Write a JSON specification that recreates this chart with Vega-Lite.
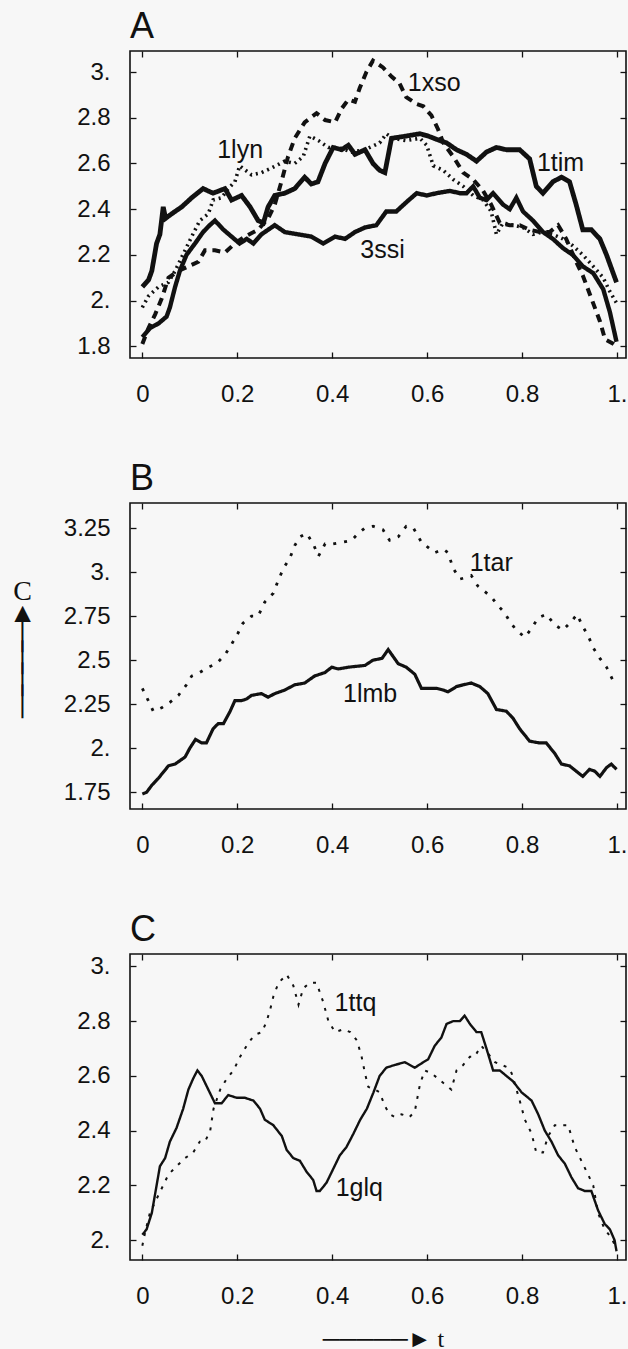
{
  "$schema": "https://vega.github.io/schema/vega-lite/v6.json",
  "background": "#f7f7f7",
  "padding": {"left": 7, "top": 8, "right": 0, "bottom": 4},
  "spacing": 53,
  "config": {
    "font": "Liberation Sans",
    "view": {"stroke": "#111", "strokeWidth": 1.6},
    "axis": {"domain": false, "grid": false, "tickColor": "#111", "tickSize": -6, "tickWidth": 1.3, "labelFont": "Liberation Sans", "labelFontSize": 24, "labelColor": "#111"},
    "axisBottom": {"labelPadding": 30},
    "axisLeft": {"labelPadding": 26},
    "title": {"anchor": "start", "frame": "group", "fontSize": 36, "fontWeight": "normal", "font": "Liberation Sans", "color": "#111", "offset": 4, "baseline": "alphabetic"},
    "text": {"font": "Liberation Sans", "fontSize": 25, "color": "#111"}
  },
  "datasets": {
    "a": [
      {"s":"1tim","t":0,"c":2.06},{"s":"1tim","t":0.013,"c":2.09},{"s":"1tim","t":0.02,"c":2.13},{"s":"1tim","t":0.03,"c":2.25},{"s":"1tim","t":0.037,"c":2.29},{"s":"1tim","t":0.044,"c":2.41},{"s":"1tim","t":0.049,"c":2.36},{"s":"1tim","t":0.062,"c":2.38},{"s":"1tim","t":0.083,"c":2.41},{"s":"1tim","t":0.104,"c":2.45},{"s":"1tim","t":0.128,"c":2.49},{"s":"1tim","t":0.149,"c":2.47},{"s":"1tim","t":0.174,"c":2.49},{"s":"1tim","t":0.188,"c":2.44},{"s":"1tim","t":0.209,"c":2.46},{"s":"1tim","t":0.227,"c":2.41},{"s":"1tim","t":0.244,"c":2.35},{"s":"1tim","t":0.255,"c":2.34},{"s":"1tim","t":0.265,"c":2.41},{"s":"1tim","t":0.279,"c":2.46},{"s":"1tim","t":0.3,"c":2.47},{"s":"1tim","t":0.321,"c":2.49},{"s":"1tim","t":0.342,"c":2.54},{"s":"1tim","t":0.356,"c":2.51},{"s":"1tim","t":0.37,"c":2.52},{"s":"1tim","t":0.385,"c":2.6},{"s":"1tim","t":0.402,"c":2.67},{"s":"1tim","t":0.42,"c":2.66},{"s":"1tim","t":0.434,"c":2.68},{"s":"1tim","t":0.448,"c":2.64},{"s":"1tim","t":0.469,"c":2.66},{"s":"1tim","t":0.486,"c":2.6},{"s":"1tim","t":0.5,"c":2.57},{"s":"1tim","t":0.511,"c":2.56},{"s":"1tim","t":0.525,"c":2.71},{"s":"1tim","t":0.556,"c":2.72},{"s":"1tim","t":0.585,"c":2.73},{"s":"1tim","t":0.602,"c":2.72},{"s":"1tim","t":0.627,"c":2.7},{"s":"1tim","t":0.641,"c":2.69},{"s":"1tim","t":0.662,"c":2.66},{"s":"1tim","t":0.683,"c":2.64},{"s":"1tim","t":0.704,"c":2.61},{"s":"1tim","t":0.725,"c":2.65},{"s":"1tim","t":0.746,"c":2.67},{"s":"1tim","t":0.767,"c":2.66},{"s":"1tim","t":0.795,"c":2.66},{"s":"1tim","t":0.816,"c":2.62},{"s":"1tim","t":0.83,"c":2.5},{"s":"1tim","t":0.844,"c":2.47},{"s":"1tim","t":0.865,"c":2.52},{"s":"1tim","t":0.883,"c":2.54},{"s":"1tim","t":0.9,"c":2.52},{"s":"1tim","t":0.914,"c":2.42},{"s":"1tim","t":0.928,"c":2.31},{"s":"1tim","t":0.946,"c":2.31},{"s":"1tim","t":0.964,"c":2.27},{"s":"1tim","t":0.978,"c":2.2},{"s":"1tim","t":0.999,"c":2.08},
      {"s":"1lyn","t":0,"c":1.97},{"s":"1lyn","t":0.013,"c":2.02},{"s":"1lyn","t":0.034,"c":2.06},{"s":"1lyn","t":0.055,"c":2.08},{"s":"1lyn","t":0.069,"c":2.13},{"s":"1lyn","t":0.083,"c":2.19},{"s":"1lyn","t":0.104,"c":2.28},{"s":"1lyn","t":0.121,"c":2.35},{"s":"1lyn","t":0.139,"c":2.38},{"s":"1lyn","t":0.149,"c":2.44},{"s":"1lyn","t":0.167,"c":2.45},{"s":"1lyn","t":0.181,"c":2.49},{"s":"1lyn","t":0.195,"c":2.52},{"s":"1lyn","t":0.205,"c":2.59},{"s":"1lyn","t":0.23,"c":2.55},{"s":"1lyn","t":0.251,"c":2.56},{"s":"1lyn","t":0.272,"c":2.58},{"s":"1lyn","t":0.3,"c":2.61},{"s":"1lyn","t":0.321,"c":2.6},{"s":"1lyn","t":0.339,"c":2.63},{"s":"1lyn","t":0.353,"c":2.72},{"s":"1lyn","t":0.371,"c":2.7},{"s":"1lyn","t":0.392,"c":2.67},{"s":"1lyn","t":0.413,"c":2.67},{"s":"1lyn","t":0.441,"c":2.65},{"s":"1lyn","t":0.469,"c":2.66},{"s":"1lyn","t":0.5,"c":2.69},{"s":"1lyn","t":0.514,"c":2.73},{"s":"1lyn","t":0.528,"c":2.71},{"s":"1lyn","t":0.556,"c":2.7},{"s":"1lyn","t":0.585,"c":2.71},{"s":"1lyn","t":0.599,"c":2.68},{"s":"1lyn","t":0.613,"c":2.59},{"s":"1lyn","t":0.634,"c":2.57},{"s":"1lyn","t":0.655,"c":2.53},{"s":"1lyn","t":0.676,"c":2.5},{"s":"1lyn","t":0.697,"c":2.46},{"s":"1lyn","t":0.718,"c":2.44},{"s":"1lyn","t":0.735,"c":2.39},{"s":"1lyn","t":0.746,"c":2.29},{"s":"1lyn","t":0.76,"c":2.34},{"s":"1lyn","t":0.781,"c":2.33},{"s":"1lyn","t":0.802,"c":2.32},{"s":"1lyn","t":0.823,"c":2.29},{"s":"1lyn","t":0.844,"c":2.3},{"s":"1lyn","t":0.865,"c":2.29},{"s":"1lyn","t":0.886,"c":2.27},{"s":"1lyn","t":0.907,"c":2.24},{"s":"1lyn","t":0.928,"c":2.2},{"s":"1lyn","t":0.95,"c":2.15},{"s":"1lyn","t":0.971,"c":2.1},{"s":"1lyn","t":0.985,"c":2.04},{"s":"1lyn","t":0.999,"c":1.99},
      {"s":"1xso","t":0,"c":1.81},{"s":"1xso","t":0.013,"c":1.88},{"s":"1xso","t":0.027,"c":1.94},{"s":"1xso","t":0.041,"c":2.01},{"s":"1xso","t":0.055,"c":2.1},{"s":"1xso","t":0.076,"c":2.13},{"s":"1xso","t":0.097,"c":2.15},{"s":"1xso","t":0.118,"c":2.17},{"s":"1xso","t":0.132,"c":2.22},{"s":"1xso","t":0.153,"c":2.22},{"s":"1xso","t":0.174,"c":2.21},{"s":"1xso","t":0.195,"c":2.25},{"s":"1xso","t":0.216,"c":2.28},{"s":"1xso","t":0.244,"c":2.31},{"s":"1xso","t":0.265,"c":2.36},{"s":"1xso","t":0.279,"c":2.42},{"s":"1xso","t":0.293,"c":2.52},{"s":"1xso","t":0.307,"c":2.63},{"s":"1xso","t":0.321,"c":2.71},{"s":"1xso","t":0.342,"c":2.78},{"s":"1xso","t":0.367,"c":2.82},{"s":"1xso","t":0.385,"c":2.79},{"s":"1xso","t":0.406,"c":2.78},{"s":"1xso","t":0.42,"c":2.84},{"s":"1xso","t":0.434,"c":2.88},{"s":"1xso","t":0.448,"c":2.87},{"s":"1xso","t":0.458,"c":2.93},{"s":"1xso","t":0.472,"c":3.0},{"s":"1xso","t":0.486,"c":3.05},{"s":"1xso","t":0.507,"c":3.02},{"s":"1xso","t":0.525,"c":2.98},{"s":"1xso","t":0.542,"c":2.95},{"s":"1xso","t":0.556,"c":2.89},{"s":"1xso","t":0.578,"c":2.86},{"s":"1xso","t":0.592,"c":2.85},{"s":"1xso","t":0.609,"c":2.81},{"s":"1xso","t":0.623,"c":2.75},{"s":"1xso","t":0.634,"c":2.69},{"s":"1xso","t":0.655,"c":2.63},{"s":"1xso","t":0.676,"c":2.56},{"s":"1xso","t":0.697,"c":2.53},{"s":"1xso","t":0.718,"c":2.48},{"s":"1xso","t":0.735,"c":2.42},{"s":"1xso","t":0.753,"c":2.34},{"s":"1xso","t":0.774,"c":2.33},{"s":"1xso","t":0.795,"c":2.33},{"s":"1xso","t":0.816,"c":2.31},{"s":"1xso","t":0.837,"c":2.3},{"s":"1xso","t":0.858,"c":2.3},{"s":"1xso","t":0.876,"c":2.33},{"s":"1xso","t":0.893,"c":2.27},{"s":"1xso","t":0.914,"c":2.17},{"s":"1xso","t":0.928,"c":2.11},{"s":"1xso","t":0.946,"c":2.01},{"s":"1xso","t":0.964,"c":1.91},{"s":"1xso","t":0.975,"c":1.83},{"s":"1xso","t":0.993,"c":1.81},{"s":"1xso","t":1.0,"c":1.8},
      {"s":"3ssi","t":0,"c":1.84},{"s":"3ssi","t":0.016,"c":1.88},{"s":"3ssi","t":0.034,"c":1.9},{"s":"3ssi","t":0.051,"c":1.93},{"s":"3ssi","t":0.058,"c":1.97},{"s":"3ssi","t":0.069,"c":2.06},{"s":"3ssi","t":0.079,"c":2.13},{"s":"3ssi","t":0.093,"c":2.2},{"s":"3ssi","t":0.111,"c":2.25},{"s":"3ssi","t":0.128,"c":2.3},{"s":"3ssi","t":0.142,"c":2.33},{"s":"3ssi","t":0.153,"c":2.35},{"s":"3ssi","t":0.171,"c":2.31},{"s":"3ssi","t":0.188,"c":2.28},{"s":"3ssi","t":0.205,"c":2.25},{"s":"3ssi","t":0.22,"c":2.27},{"s":"3ssi","t":0.234,"c":2.25},{"s":"3ssi","t":0.251,"c":2.29},{"s":"3ssi","t":0.279,"c":2.33},{"s":"3ssi","t":0.3,"c":2.3},{"s":"3ssi","t":0.328,"c":2.29},{"s":"3ssi","t":0.356,"c":2.28},{"s":"3ssi","t":0.381,"c":2.25},{"s":"3ssi","t":0.406,"c":2.28},{"s":"3ssi","t":0.427,"c":2.27},{"s":"3ssi","t":0.448,"c":2.3},{"s":"3ssi","t":0.469,"c":2.32},{"s":"3ssi","t":0.493,"c":2.33},{"s":"3ssi","t":0.514,"c":2.39},{"s":"3ssi","t":0.535,"c":2.39},{"s":"3ssi","t":0.556,"c":2.43},{"s":"3ssi","t":0.578,"c":2.47},{"s":"3ssi","t":0.599,"c":2.46},{"s":"3ssi","t":0.62,"c":2.47},{"s":"3ssi","t":0.648,"c":2.48},{"s":"3ssi","t":0.669,"c":2.47},{"s":"3ssi","t":0.683,"c":2.47},{"s":"3ssi","t":0.697,"c":2.5},{"s":"3ssi","t":0.711,"c":2.45},{"s":"3ssi","t":0.725,"c":2.44},{"s":"3ssi","t":0.739,"c":2.47},{"s":"3ssi","t":0.76,"c":2.42},{"s":"3ssi","t":0.774,"c":2.4},{"s":"3ssi","t":0.788,"c":2.45},{"s":"3ssi","t":0.802,"c":2.39},{"s":"3ssi","t":0.823,"c":2.35},{"s":"3ssi","t":0.844,"c":2.3},{"s":"3ssi","t":0.865,"c":2.27},{"s":"3ssi","t":0.886,"c":2.23},{"s":"3ssi","t":0.907,"c":2.2},{"s":"3ssi","t":0.928,"c":2.15},{"s":"3ssi","t":0.95,"c":2.12},{"s":"3ssi","t":0.971,"c":2.05},{"s":"3ssi","t":0.985,"c":1.95},{"s":"3ssi","t":0.999,"c":1.82}
    ],
    "alab": [
      {"t":0.615,"c":2.95,"label":"1xso"},{"t":0.206,"c":2.66,"label":"1lyn"},{"t":0.881,"c":2.6,"label":"1tim"},{"t":0.506,"c":2.22,"label":"3ssi"}
    ],
    "b": [
      {"s":"1lmb","t":0,"c":1.74},{"s":"1lmb","t":0.009,"c":1.75},{"s":"1lmb","t":0.02,"c":1.79},{"s":"1lmb","t":0.034,"c":1.83},{"s":"1lmb","t":0.055,"c":1.9},{"s":"1lmb","t":0.069,"c":1.91},{"s":"1lmb","t":0.09,"c":1.95},{"s":"1lmb","t":0.1,"c":2.0},{"s":"1lmb","t":0.112,"c":2.05},{"s":"1lmb","t":0.125,"c":2.03},{"s":"1lmb","t":0.135,"c":2.03},{"s":"1lmb","t":0.149,"c":2.11},{"s":"1lmb","t":0.16,"c":2.14},{"s":"1lmb","t":0.171,"c":2.14},{"s":"1lmb","t":0.185,"c":2.21},{"s":"1lmb","t":0.195,"c":2.27},{"s":"1lmb","t":0.209,"c":2.27},{"s":"1lmb","t":0.22,"c":2.28},{"s":"1lmb","t":0.23,"c":2.3},{"s":"1lmb","t":0.251,"c":2.31},{"s":"1lmb","t":0.265,"c":2.29},{"s":"1lmb","t":0.279,"c":2.31},{"s":"1lmb","t":0.3,"c":2.33},{"s":"1lmb","t":0.321,"c":2.36},{"s":"1lmb","t":0.342,"c":2.37},{"s":"1lmb","t":0.363,"c":2.41},{"s":"1lmb","t":0.385,"c":2.43},{"s":"1lmb","t":0.399,"c":2.46},{"s":"1lmb","t":0.413,"c":2.45},{"s":"1lmb","t":0.434,"c":2.46},{"s":"1lmb","t":0.469,"c":2.47},{"s":"1lmb","t":0.486,"c":2.5},{"s":"1lmb","t":0.505,"c":2.51},{"s":"1lmb","t":0.518,"c":2.56},{"s":"1lmb","t":0.539,"c":2.48},{"s":"1lmb","t":0.556,"c":2.46},{"s":"1lmb","t":0.574,"c":2.42},{"s":"1lmb","t":0.588,"c":2.34},{"s":"1lmb","t":0.602,"c":2.34},{"s":"1lmb","t":0.62,"c":2.34},{"s":"1lmb","t":0.634,"c":2.33},{"s":"1lmb","t":0.644,"c":2.32},{"s":"1lmb","t":0.662,"c":2.35},{"s":"1lmb","t":0.676,"c":2.36},{"s":"1lmb","t":0.693,"c":2.37},{"s":"1lmb","t":0.711,"c":2.35},{"s":"1lmb","t":0.728,"c":2.31},{"s":"1lmb","t":0.746,"c":2.22},{"s":"1lmb","t":0.767,"c":2.21},{"s":"1lmb","t":0.781,"c":2.17},{"s":"1lmb","t":0.795,"c":2.11},{"s":"1lmb","t":0.816,"c":2.04},{"s":"1lmb","t":0.837,"c":2.03},{"s":"1lmb","t":0.851,"c":2.03},{"s":"1lmb","t":0.869,"c":1.97},{"s":"1lmb","t":0.883,"c":1.91},{"s":"1lmb","t":0.9,"c":1.9},{"s":"1lmb","t":0.914,"c":1.87},{"s":"1lmb","t":0.928,"c":1.84},{"s":"1lmb","t":0.942,"c":1.88},{"s":"1lmb","t":0.953,"c":1.87},{"s":"1lmb","t":0.964,"c":1.84},{"s":"1lmb","t":0.978,"c":1.89},{"s":"1lmb","t":0.988,"c":1.91},{"s":"1lmb","t":0.999,"c":1.88},
      {"s":"1tar","t":0,"c":2.34},{"s":"1tar","t":0.009,"c":2.29},{"s":"1tar","t":0.023,"c":2.21},{"s":"1tar","t":0.041,"c":2.23},{"s":"1tar","t":0.058,"c":2.26},{"s":"1tar","t":0.076,"c":2.3},{"s":"1tar","t":0.093,"c":2.36},{"s":"1tar","t":0.104,"c":2.41},{"s":"1tar","t":0.121,"c":2.43},{"s":"1tar","t":0.139,"c":2.46},{"s":"1tar","t":0.156,"c":2.48},{"s":"1tar","t":0.174,"c":2.53},{"s":"1tar","t":0.188,"c":2.59},{"s":"1tar","t":0.201,"c":2.65},{"s":"1tar","t":0.212,"c":2.71},{"s":"1tar","t":0.23,"c":2.75},{"s":"1tar","t":0.244,"c":2.75},{"s":"1tar","t":0.258,"c":2.83},{"s":"1tar","t":0.276,"c":2.88},{"s":"1tar","t":0.286,"c":2.95},{"s":"1tar","t":0.297,"c":3.02},{"s":"1tar","t":0.311,"c":3.08},{"s":"1tar","t":0.321,"c":3.15},{"s":"1tar","t":0.332,"c":3.2},{"s":"1tar","t":0.346,"c":3.22},{"s":"1tar","t":0.36,"c":3.16},{"s":"1tar","t":0.371,"c":3.09},{"s":"1tar","t":0.385,"c":3.16},{"s":"1tar","t":0.402,"c":3.16},{"s":"1tar","t":0.423,"c":3.17},{"s":"1tar","t":0.441,"c":3.18},{"s":"1tar","t":0.455,"c":3.22},{"s":"1tar","t":0.469,"c":3.25},{"s":"1tar","t":0.486,"c":3.26},{"s":"1tar","t":0.507,"c":3.24},{"s":"1tar","t":0.521,"c":3.18},{"s":"1tar","t":0.539,"c":3.2},{"s":"1tar","t":0.556,"c":3.26},{"s":"1tar","t":0.571,"c":3.25},{"s":"1tar","t":0.588,"c":3.17},{"s":"1tar","t":0.602,"c":3.14},{"s":"1tar","t":0.616,"c":3.11},{"s":"1tar","t":0.634,"c":3.13},{"s":"1tar","t":0.644,"c":3.11},{"s":"1tar","t":0.655,"c":3.02},{"s":"1tar","t":0.669,"c":2.96},{"s":"1tar","t":0.683,"c":2.97},{"s":"1tar","t":0.693,"c":2.98},{"s":"1tar","t":0.707,"c":2.92},{"s":"1tar","t":0.721,"c":2.89},{"s":"1tar","t":0.735,"c":2.86},{"s":"1tar","t":0.749,"c":2.81},{"s":"1tar","t":0.763,"c":2.77},{"s":"1tar","t":0.774,"c":2.72},{"s":"1tar","t":0.788,"c":2.67},{"s":"1tar","t":0.806,"c":2.63},{"s":"1tar","t":0.82,"c":2.68},{"s":"1tar","t":0.834,"c":2.74},{"s":"1tar","t":0.851,"c":2.76},{"s":"1tar","t":0.869,"c":2.7},{"s":"1tar","t":0.886,"c":2.67},{"s":"1tar","t":0.904,"c":2.72},{"s":"1tar","t":0.916,"c":2.76},{"s":"1tar","t":0.928,"c":2.69},{"s":"1tar","t":0.939,"c":2.64},{"s":"1tar","t":0.95,"c":2.57},{"s":"1tar","t":0.964,"c":2.51},{"s":"1tar","t":0.978,"c":2.46},{"s":"1tar","t":0.996,"c":2.36}
    ],
    "blab": [
      {"t":0.735,"c":3.05,"label":"1tar"},{"t":0.48,"c":2.31,"label":"1lmb"}
    ],
    "c": [
      {"s":"1glq","t":0,"c":2.02},{"s":"1glq","t":0.009,"c":2.04},{"s":"1glq","t":0.02,"c":2.1},{"s":"1glq","t":0.03,"c":2.2},{"s":"1glq","t":0.037,"c":2.27},{"s":"1glq","t":0.048,"c":2.3},{"s":"1glq","t":0.058,"c":2.36},{"s":"1glq","t":0.072,"c":2.41},{"s":"1glq","t":0.086,"c":2.48},{"s":"1glq","t":0.097,"c":2.55},{"s":"1glq","t":0.107,"c":2.59},{"s":"1glq","t":0.116,"c":2.62},{"s":"1glq","t":0.125,"c":2.6},{"s":"1glq","t":0.139,"c":2.55},{"s":"1glq","t":0.153,"c":2.5},{"s":"1glq","t":0.167,"c":2.5},{"s":"1glq","t":0.181,"c":2.53},{"s":"1glq","t":0.199,"c":2.52},{"s":"1glq","t":0.216,"c":2.52},{"s":"1glq","t":0.234,"c":2.51},{"s":"1glq","t":0.248,"c":2.48},{"s":"1glq","t":0.258,"c":2.44},{"s":"1glq","t":0.276,"c":2.42},{"s":"1glq","t":0.294,"c":2.38},{"s":"1glq","t":0.304,"c":2.33},{"s":"1glq","t":0.318,"c":2.3},{"s":"1glq","t":0.332,"c":2.29},{"s":"1glq","t":0.346,"c":2.25},{"s":"1glq","t":0.36,"c":2.22},{"s":"1glq","t":0.367,"c":2.18},{"s":"1glq","t":0.374,"c":2.18},{"s":"1glq","t":0.388,"c":2.21},{"s":"1glq","t":0.402,"c":2.26},{"s":"1glq","t":0.416,"c":2.31},{"s":"1glq","t":0.43,"c":2.34},{"s":"1glq","t":0.445,"c":2.39},{"s":"1glq","t":0.459,"c":2.44},{"s":"1glq","t":0.473,"c":2.48},{"s":"1glq","t":0.487,"c":2.54},{"s":"1glq","t":0.5,"c":2.6},{"s":"1glq","t":0.514,"c":2.63},{"s":"1glq","t":0.532,"c":2.64},{"s":"1glq","t":0.553,"c":2.65},{"s":"1glq","t":0.574,"c":2.63},{"s":"1glq","t":0.592,"c":2.65},{"s":"1glq","t":0.602,"c":2.66},{"s":"1glq","t":0.616,"c":2.71},{"s":"1glq","t":0.63,"c":2.74},{"s":"1glq","t":0.641,"c":2.79},{"s":"1glq","t":0.655,"c":2.8},{"s":"1glq","t":0.669,"c":2.8},{"s":"1glq","t":0.679,"c":2.82},{"s":"1glq","t":0.69,"c":2.79},{"s":"1glq","t":0.704,"c":2.76},{"s":"1glq","t":0.714,"c":2.76},{"s":"1glq","t":0.725,"c":2.7},{"s":"1glq","t":0.739,"c":2.62},{"s":"1glq","t":0.753,"c":2.62},{"s":"1glq","t":0.767,"c":2.6},{"s":"1glq","t":0.781,"c":2.58},{"s":"1glq","t":0.799,"c":2.54},{"s":"1glq","t":0.82,"c":2.51},{"s":"1glq","t":0.834,"c":2.46},{"s":"1glq","t":0.848,"c":2.4},{"s":"1glq","t":0.862,"c":2.36},{"s":"1glq","t":0.876,"c":2.31},{"s":"1glq","t":0.89,"c":2.28},{"s":"1glq","t":0.904,"c":2.23},{"s":"1glq","t":0.918,"c":2.19},{"s":"1glq","t":0.932,"c":2.18},{"s":"1glq","t":0.946,"c":2.18},{"s":"1glq","t":0.96,"c":2.11},{"s":"1glq","t":0.974,"c":2.06},{"s":"1glq","t":0.985,"c":2.04},{"s":"1glq","t":0.995,"c":2.0},{"s":"1glq","t":0.999,"c":1.96},
      {"s":"1ttq","t":0,"c":1.98},{"s":"1ttq","t":0.006,"c":2.03},{"s":"1ttq","t":0.016,"c":2.1},{"s":"1ttq","t":0.027,"c":2.14},{"s":"1ttq","t":0.041,"c":2.19},{"s":"1ttq","t":0.055,"c":2.24},{"s":"1ttq","t":0.072,"c":2.27},{"s":"1ttq","t":0.09,"c":2.3},{"s":"1ttq","t":0.107,"c":2.32},{"s":"1ttq","t":0.121,"c":2.36},{"s":"1ttq","t":0.132,"c":2.36},{"s":"1ttq","t":0.143,"c":2.4},{"s":"1ttq","t":0.15,"c":2.48},{"s":"1ttq","t":0.164,"c":2.55},{"s":"1ttq","t":0.178,"c":2.59},{"s":"1ttq","t":0.192,"c":2.62},{"s":"1ttq","t":0.206,"c":2.67},{"s":"1ttq","t":0.223,"c":2.72},{"s":"1ttq","t":0.237,"c":2.75},{"s":"1ttq","t":0.252,"c":2.76},{"s":"1ttq","t":0.262,"c":2.8},{"s":"1ttq","t":0.269,"c":2.84},{"s":"1ttq","t":0.276,"c":2.89},{"s":"1ttq","t":0.287,"c":2.94},{"s":"1ttq","t":0.304,"c":2.97},{"s":"1ttq","t":0.318,"c":2.93},{"s":"1ttq","t":0.329,"c":2.86},{"s":"1ttq","t":0.339,"c":2.92},{"s":"1ttq","t":0.353,"c":2.94},{"s":"1ttq","t":0.367,"c":2.94},{"s":"1ttq","t":0.381,"c":2.87},{"s":"1ttq","t":0.392,"c":2.8},{"s":"1ttq","t":0.406,"c":2.76},{"s":"1ttq","t":0.423,"c":2.77},{"s":"1ttq","t":0.438,"c":2.76},{"s":"1ttq","t":0.452,"c":2.73},{"s":"1ttq","t":0.462,"c":2.67},{"s":"1ttq","t":0.469,"c":2.61},{"s":"1ttq","t":0.476,"c":2.56},{"s":"1ttq","t":0.49,"c":2.55},{"s":"1ttq","t":0.5,"c":2.54},{"s":"1ttq","t":0.511,"c":2.49},{"s":"1ttq","t":0.521,"c":2.46},{"s":"1ttq","t":0.532,"c":2.45},{"s":"1ttq","t":0.546,"c":2.46},{"s":"1ttq","t":0.563,"c":2.45},{"s":"1ttq","t":0.574,"c":2.47},{"s":"1ttq","t":0.585,"c":2.57},{"s":"1ttq","t":0.595,"c":2.62},{"s":"1ttq","t":0.609,"c":2.61},{"s":"1ttq","t":0.623,"c":2.59},{"s":"1ttq","t":0.637,"c":2.57},{"s":"1ttq","t":0.651,"c":2.55},{"s":"1ttq","t":0.662,"c":2.62},{"s":"1ttq","t":0.676,"c":2.64},{"s":"1ttq","t":0.69,"c":2.67},{"s":"1ttq","t":0.7,"c":2.67},{"s":"1ttq","t":0.714,"c":2.71},{"s":"1ttq","t":0.729,"c":2.68},{"s":"1ttq","t":0.743,"c":2.65},{"s":"1ttq","t":0.757,"c":2.64},{"s":"1ttq","t":0.771,"c":2.63},{"s":"1ttq","t":0.778,"c":2.61},{"s":"1ttq","t":0.785,"c":2.57},{"s":"1ttq","t":0.795,"c":2.51},{"s":"1ttq","t":0.806,"c":2.44},{"s":"1ttq","t":0.82,"c":2.39},{"s":"1ttq","t":0.83,"c":2.32},{"s":"1ttq","t":0.844,"c":2.32},{"s":"1ttq","t":0.855,"c":2.38},{"s":"1ttq","t":0.869,"c":2.42},{"s":"1ttq","t":0.883,"c":2.42},{"s":"1ttq","t":0.897,"c":2.42},{"s":"1ttq","t":0.911,"c":2.34},{"s":"1ttq","t":0.925,"c":2.29},{"s":"1ttq","t":0.939,"c":2.24},{"s":"1ttq","t":0.95,"c":2.2},{"s":"1ttq","t":0.96,"c":2.1},{"s":"1ttq","t":0.974,"c":2.04},{"s":"1ttq","t":0.988,"c":2.01},{"s":"1ttq","t":0.999,"c":1.97}
    ],
    "clab": [
      {"t":0.449,"c":2.865,"label":"1ttq"},{"t":0.457,"c":2.19,"label":"1glq"}
    ]
  },
  "vconcat": [
    {
      "title": "A",
      "width": 496, "height": 307,
      "resolve": {"axis": {"x": "independent", "y": "independent"}},
      "layer": [
        {
          "data": {"name": "a"},
          "mark": {"type": "line", "color": "#111"},
          "encoding": {
            "x": {"field": "t", "type": "quantitative", "scale": {"domain": [-0.026, 1.019], "nice": false, "zero": false}, "axis": {"orient": "bottom", "title": null, "values": [0, 0.2, 0.4, 0.6, 0.8, 1], "labelExpr": "datum.value == 0 ? '0' : (datum.value % 1 == 0 ? datum.value + '.' : format(datum.value, '~g'))"}},
            "y": {"field": "c", "type": "quantitative", "scale": {"domain": [1.749, 3.092], "nice": false, "zero": false}, "axis": {"orient": "left", "title": null, "values": [1.8, 2, 2.2, 2.4, 2.6, 2.8, 3], "labelExpr": "datum.value % 1 == 0 ? datum.value + '.' : format(datum.value, '~g')"}},
            "strokeDash": {"field": "s", "type": "nominal", "scale": {"domain": ["1tim", "3ssi", "1xso", "1lyn", "1lmb", "1tar", "1glq", "1ttq"], "range": [[1, 0], [1, 0], [8, 6], [2, 4], [1, 0], [3, 8], [1, 0], [3, 7]]}, "legend": null},
            "strokeWidth": {"field": "s", "type": "nominal", "scale": {"domain": ["1tim", "3ssi", "1xso", "1lyn", "1lmb", "1tar", "1glq", "1ttq"], "range": [4.8, 2, 2.2, 2.2, 2.6, 2.8, 2.6, 2.8]}, "legend": null}
          }
        },
        {
          "data": {"name": "a"},
          "mark": {"type": "point", "opacity": 0},
          "encoding": {
            "x": {"field": "t", "type": "quantitative", "scale": {"domain": [-0.026, 1.019], "nice": false, "zero": false}, "axis": {"orient": "top", "title": null, "labels": false, "values": [0, 0.2, 0.4, 0.6, 0.8, 1]}},
            "y": {"field": "c", "type": "quantitative", "scale": {"domain": [1.749, 3.092], "nice": false, "zero": false}, "axis": {"orient": "right", "title": null, "labels": false, "values": [1.8, 2, 2.2, 2.4, 2.6, 2.8, 3]}}
          }
        },
        {
          "data": {"name": "alab"},
          "mark": {"type": "text"},
          "encoding": {
            "x": {"field": "t", "type": "quantitative", "scale": {"domain": [-0.026, 1.019], "nice": false, "zero": false}, "axis": null},
            "y": {"field": "c", "type": "quantitative", "scale": {"domain": [1.749, 3.092], "nice": false, "zero": false}, "axis": null},
            "text": {"field": "label"}
          }
        }
      ]
    },
    {
      "title": "B",
      "width": 496, "height": 306,
      "resolve": {"axis": {"x": "independent", "y": "independent"}},
      "layer": [
        {
          "data": {"name": "b"},
          "mark": {"type": "line", "color": "#111"},
          "encoding": {
            "x": {"field": "t", "type": "quantitative", "scale": {"domain": [-0.026, 1.019], "nice": false, "zero": false}, "axis": {"orient": "bottom", "title": null, "values": [0, 0.2, 0.4, 0.6, 0.8, 1], "labelExpr": "datum.value == 0 ? '0' : (datum.value % 1 == 0 ? datum.value + '.' : format(datum.value, '~g'))"}},
            "y": {"field": "c", "type": "quantitative", "scale": {"domain": [1.655, 3.392], "nice": false, "zero": false}, "axis": {"orient": "left", "values": [1.75, 2, 2.25, 2.5, 2.75, 3, 3.25], "labelExpr": "datum.value % 1 == 0 ? datum.value + '.' : format(datum.value, '~g')", "title": ["C", "▲", "│", "│", "│", "│"], "titleAngle": 0, "titleFont": "Liberation Serif", "titleFontSize": 28, "titleFontWeight": "normal", "titleLineHeight": 22, "titleColor": "#111", "titleAlign": "center", "titleBaseline": "top", "titleX": -108, "titleY": 74}},
            "strokeDash": {"field": "s", "type": "nominal", "scale": {"domain": ["1tim", "3ssi", "1xso", "1lyn", "1lmb", "1tar", "1glq", "1ttq"], "range": [[1, 0], [1, 0], [8, 6], [2, 4], [1, 0], [3, 8], [1, 0], [3, 7]]}, "legend": null},
            "strokeWidth": {"field": "s", "type": "nominal", "scale": {"domain": ["1tim", "3ssi", "1xso", "1lyn", "1lmb", "1tar", "1glq", "1ttq"], "range": [4.8, 2, 2.2, 2.2, 2.6, 2.8, 2.6, 2.8]}, "legend": null}
          }
        },
        {
          "data": {"name": "b"},
          "mark": {"type": "point", "opacity": 0},
          "encoding": {
            "x": {"field": "t", "type": "quantitative", "scale": {"domain": [-0.026, 1.019], "nice": false, "zero": false}, "axis": {"orient": "top", "title": null, "labels": false, "values": [0, 0.2, 0.4, 0.6, 0.8, 1]}},
            "y": {"field": "c", "type": "quantitative", "scale": {"domain": [1.655, 3.392], "nice": false, "zero": false}, "axis": {"orient": "right", "title": null, "labels": false, "values": [1.75, 2, 2.25, 2.5, 2.75, 3, 3.25]}}
          }
        },
        {
          "data": {"name": "blab"},
          "mark": {"type": "text"},
          "encoding": {
            "x": {"field": "t", "type": "quantitative", "scale": {"domain": [-0.026, 1.019], "nice": false, "zero": false}, "axis": null},
            "y": {"field": "c", "type": "quantitative", "scale": {"domain": [1.655, 3.392], "nice": false, "zero": false}, "axis": null},
            "text": {"field": "label"}
          }
        }
      ]
    },
    {
      "title": "C",
      "width": 496, "height": 306,
      "resolve": {"axis": {"x": "independent", "y": "independent"}},
      "layer": [
        {
          "data": {"name": "c"},
          "mark": {"type": "line", "color": "#111"},
          "encoding": {
            "x": {"field": "t", "type": "quantitative", "scale": {"domain": [-0.026, 1.019], "nice": false, "zero": false}, "axis": {"orient": "bottom", "values": [0, 0.2, 0.4, 0.6, 0.8, 1], "labelExpr": "datum.value == 0 ? '0' : (datum.value % 1 == 0 ? datum.value + '.' : format(datum.value, '~g'))", "title": "─────► t", "titleFont": "Liberation Serif", "titleFontSize": 24, "titleFontWeight": "normal", "titleColor": "#111", "titleAlign": "center", "titleBaseline": "middle", "titleX": 253, "titleY": 79}},
            "y": {"field": "c", "type": "quantitative", "scale": {"domain": [1.928, 3.045], "nice": false, "zero": false}, "axis": {"orient": "left", "title": null, "values": [2, 2.2, 2.4, 2.6, 2.8, 3], "labelExpr": "datum.value % 1 == 0 ? datum.value + '.' : format(datum.value, '~g')"}},
            "strokeDash": {"field": "s", "type": "nominal", "scale": {"domain": ["1tim", "3ssi", "1xso", "1lyn", "1lmb", "1tar", "1glq", "1ttq"], "range": [[1, 0], [1, 0], [8, 6], [2, 4], [1, 0], [3, 8], [1, 0], [3, 7]]}, "legend": null},
            "strokeWidth": {"field": "s", "type": "nominal", "scale": {"domain": ["1tim", "3ssi", "1xso", "1lyn", "1lmb", "1tar", "1glq", "1ttq"], "range": [4.8, 2, 2.2, 2.2, 2.6, 2.8, 2.6, 2.8]}, "legend": null}
          }
        },
        {
          "data": {"name": "c"},
          "mark": {"type": "point", "opacity": 0},
          "encoding": {
            "x": {"field": "t", "type": "quantitative", "scale": {"domain": [-0.026, 1.019], "nice": false, "zero": false}, "axis": {"orient": "top", "title": null, "labels": false, "values": [0, 0.2, 0.4, 0.6, 0.8, 1]}},
            "y": {"field": "c", "type": "quantitative", "scale": {"domain": [1.928, 3.045], "nice": false, "zero": false}, "axis": {"orient": "right", "title": null, "labels": false, "values": [2, 2.2, 2.4, 2.6, 2.8, 3]}}
          }
        },
        {
          "data": {"name": "clab"},
          "mark": {"type": "text"},
          "encoding": {
            "x": {"field": "t", "type": "quantitative", "scale": {"domain": [-0.026, 1.019], "nice": false, "zero": false}, "axis": null},
            "y": {"field": "c", "type": "quantitative", "scale": {"domain": [1.928, 3.045], "nice": false, "zero": false}, "axis": null},
            "text": {"field": "label"}
          }
        }
      ]
    }
  ]
}
